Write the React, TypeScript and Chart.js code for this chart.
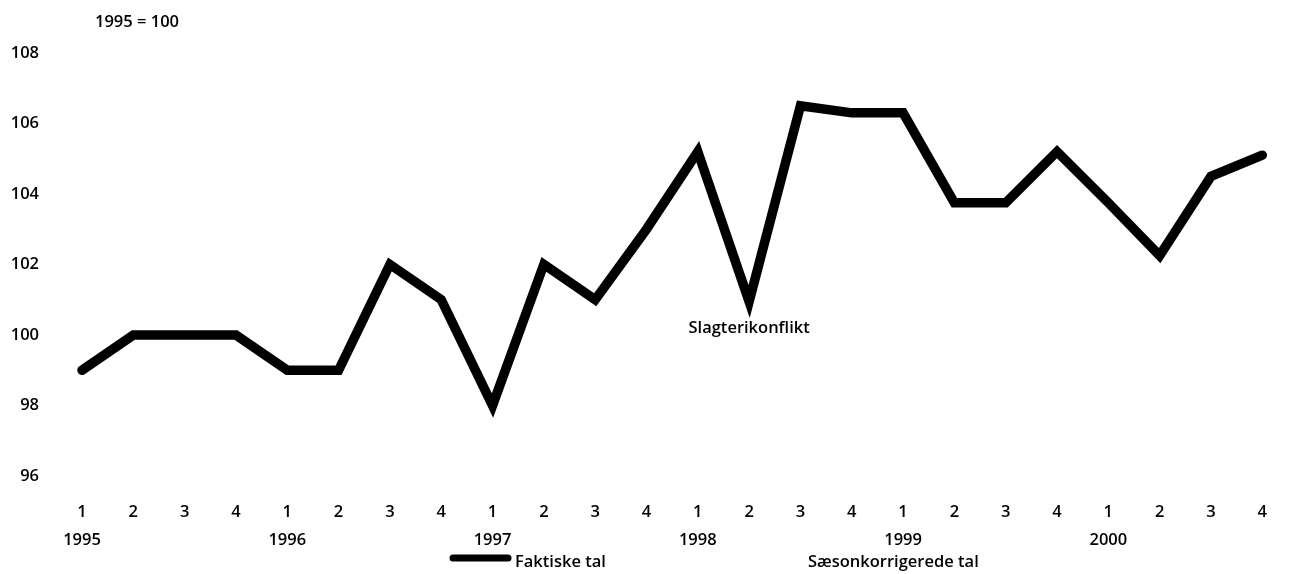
import React, { useEffect, useRef } from "react";
import { Chart, registerables } from "chart.js";

Chart.register(...registerables);

const years = ["1995", "1996", "1997", "1998", "1999", "2000"];
const quarters = ["1", "2", "3", "4"];
const faktiskeTal = [
  99, 100, 100, 100,
  99, 99, 102, 101,
  98, 102, 101, 103,
  105.2, 100.95, 106.5, 106.3,
  106.3, 103.75, 103.75, 105.2,
  103.75, 102.25, 104.5, 105.1,
];
const yTicks = [96, 98, 100, 102, 104, 106, 108];
const unitLabel = "1995 = 100";
const legendLabels = ["Faktiske tal", "Sæsonkorrigerede tal"];
const annotationIndex = 13;
const annotationText = "Slagterikonflikt";

const FONT = "'Open Sans', 'DejaVu Sans', sans-serif";

const labels: (string | string[])[] = years.flatMap((y) =>
  quarters.map((q, i) => (i === 0 ? [q, y] : q))
);

const overlayPlugin = {
  id: "overlay",
  afterDraw(chart: any) {
    const ctx = chart.ctx as CanvasRenderingContext2D;
    const xs = chart.scales.x;
    const ys = chart.scales.y;
    ctx.save();
    ctx.fillStyle = "#000";
    // unit label
    ctx.font = `600 16.5px ${FONT}`;
    ctx.textAlign = "left";
    ctx.textBaseline = "middle";
    ctx.fillText(unitLabel, 95, 22);
    // annotation
    ctx.font = `600 16.5px ${FONT}`;
    ctx.textAlign = "center";
    const ax = xs.getPixelForValue(annotationIndex);
    const ay = ys.getPixelForValue(faktiskeTal[annotationIndex]) + 27;
    ctx.fillText(annotationText, ax, ay);
    // legend
    ctx.strokeStyle = "#000";
    ctx.lineWidth = 7;
    ctx.lineCap = "round";
    ctx.beginPath();
    ctx.moveTo(453, 558);
    ctx.lineTo(508, 558);
    ctx.stroke();
    ctx.font = `600 16.5px ${FONT}`;
    ctx.textAlign = "left";
    ctx.fillText(legendLabels[0], 515, 562);
    ctx.fillText(legendLabels[1], 808, 562);
    ctx.restore();
  },
};

export default function App() {
  const ref = useRef<HTMLCanvasElement | null>(null);
  useEffect(() => {
    if (!ref.current) return;
    const chart = new Chart(ref.current, {
      type: "line",
      data: {
        labels,
        datasets: [
          {
            label: legendLabels[0],
            data: faktiskeTal,
            borderColor: "#000",
            backgroundColor: "#000",
            borderWidth: 9.5,
            pointRadius: 0,
            tension: 0,
            borderJoinStyle: "miter",
            borderCapStyle: "round",
            clip: false as any,
          },
        ],
      },
      options: {
        responsive: false,
        animation: false,
        layout: { padding: { top: 50, right: 7, left: 0, bottom: 0 } },
        plugins: {
          legend: { display: false },
          tooltip: { enabled: false },
          title: { display: false },
        },
        scales: {
          x: {
            type: "category",
            offset: false,
            grid: { display: false, drawTicks: false },
            border: { display: false },
            ticks: {
              color: "#000",
              padding: 22,
              maxRotation: 0,
              autoSkip: false,
              font: { family: FONT, size: 16.5, weight: "600", lineHeight: "28px" },
            },
            afterFit(scale: any) {
              scale.height = 98;
            },
          },
          y: {
            min: 96,
            max: 108,
            grid: { display: false, drawTicks: false },
            border: { display: false },
            ticks: {
              color: "#000",
              padding: 43,
              font: { family: FONT, size: 16.5, weight: "600" },
            },
            afterBuildTicks(scale: any) {
              scale.ticks = yTicks.map((v) => ({ value: v }));
            },
            afterFit(scale: any) {
              scale.width = 82;
            },
          },
        },
      },
      plugins: [overlayPlugin],
    });
    return () => chart.destroy();
  }, []);
  return (
    <div style={{ position: "fixed", left: 0, top: 0, width: 1289, height: 574, background: "#fff" }}>
      <canvas ref={ref} width={1289} height={574} />
    </div>
  );
}
